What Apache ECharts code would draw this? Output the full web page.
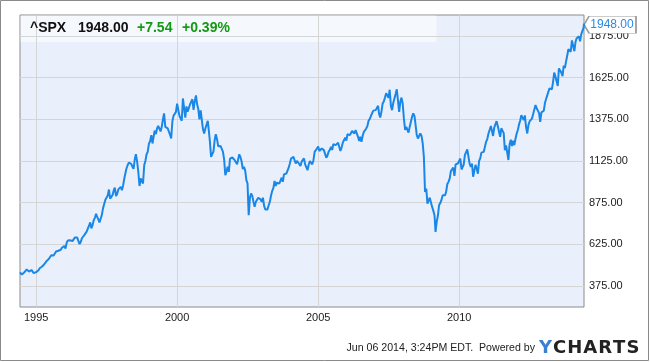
<!DOCTYPE html>
<html><head><meta charset="utf-8">
<script src="https://cdn.jsdelivr.net/npm/echarts@6/dist/echarts.min.js"></script>
<style>html,body{margin:0;padding:0;background:#fff}#c{width:650px;height:362px}</style>
</head><body><div id="c"></div>
<script>
// ---- data (semi-monthly samples: 1st and 16th of each month) ----
const startDate = '1994-06-06';
const endDate = '2014-06-06';
const firstValue = 458;     // 1994-06-06
const lastValue = 1948;     // 2014-06-06
const v1994 = [461,444,454,458,465,475,470,462,469,472,466,453,458]; // from Jun 16
const v1995 = [459,465,470,482,487,491,501,506,515,525,533,539,545,560,562,559,562,583,584,587,582,593,605,616];
const v1996 = [616,600,636,648,640,650,645,645,654,666,669,666,671,627,640,662,652,681,687,702,705,737,757,721];
const v1997 = [741,770,786,808,791,793,757,763,801,841,848,893,885,918,954,900,899,920,947,966,915,928,955,963];
const v1998 = [970,950,980,1020,1049,1080,1101,1115,1112,1108,1091,1078,1134,1166,1121,1062,975,1020,1005,990,1099,1125,1164,1180];
const v1999 = [1229,1243,1280,1230,1238,1307,1286,1320,1335,1337,1302,1330,1373,1410,1329,1330,1320,1318,1283,1260,1363,1397,1389,1418];
const v2000 = [1469,1465,1394,1388,1366,1500,1499,1385,1452,1420,1421,1464,1455,1495,1431,1484,1518,1465,1437,1374,1429,1372,1315,1290];
const v2001 = [1320,1330,1366,1301,1240,1150,1160,1183,1249,1285,1256,1214,1224,1215,1211,1181,1134,1040,1060,1090,1060,1139,1139,1146];
const v2002 = [1148,1130,1130,1105,1107,1165,1147,1120,1077,1090,1067,1010,990,800,905,930,916,880,850,880,890,905,910,895];
const v2003 = [880,905,856,834,841,835,860,880,917,945,964,1005,975,995,990,990,1008,1025,1000,1045,1051,1050,1058,1085];
const v2004 = [1112,1140,1131,1150,1145,1110,1126,1135,1107,1095,1121,1132,1141,1105,1102,1070,1104,1125,1115,1105,1130,1180,1174,1200];
const v2005 = [1212,1185,1181,1200,1204,1190,1181,1145,1157,1180,1192,1210,1191,1225,1234,1220,1220,1235,1229,1185,1207,1235,1249,1265];
const v2006 = [1248,1285,1280,1280,1281,1305,1295,1290,1311,1290,1270,1245,1270,1240,1277,1300,1304,1320,1336,1366,1378,1396,1401,1427];
const v2007 = [1418,1430,1438,1456,1407,1386,1421,1470,1482,1505,1531,1530,1503,1552,1455,1430,1474,1485,1527,1555,1549,1420,1480,1505];
const v2008 = [1468,1380,1311,1330,1340,1295,1330,1360,1390,1410,1395,1340,1280,1260,1265,1290,1275,1230,1150,940,960,870,880,905];
const v2009 = [903,850,826,800,700,760,798,860,873,890,919,915,919,940,987,1000,1021,1065,1057,1085,1036,1105,1096,1110];
const v2010 = [1115,1140,1074,1090,1104,1160,1169,1195,1187,1110,1089,1110,1031,1065,1102,1080,1049,1125,1141,1175,1183,1180,1181,1240];
const v2011 = [1258,1290,1286,1335,1327,1275,1326,1320,1364,1335,1345,1270,1321,1315,1292,1190,1219,1215,1131,1225,1253,1215,1247,1220];
const v2012 = [1258,1290,1312,1345,1366,1400,1408,1370,1398,1330,1290,1340,1362,1355,1379,1405,1407,1460,1441,1430,1412,1360,1416,1420];
const v2013 = [1426,1472,1498,1520,1515,1560,1569,1555,1598,1655,1631,1630,1575,1680,1686,1655,1633,1697,1682,1720,1757,1795,1806,1780];
const v2014 = [1848,1845,1783,1838,1859,1850,1872,1842,1884,1880,1924]; // to Jun 1
const yTicks = [375,625,875,1125,1375,1625,1875];
const xTicks = ['1995-01-01','2000-01-01','2005-01-01','2010-01-01'];

// ---- build series ----
const pad = n => (n < 10 ? '0' : '') + n;
function slots(year, startSlot, vals) {
  return vals.map((v, i) => {
    const s = startSlot + i;
    return [year + '-' + pad(Math.floor(s / 2) + 1) + '-' + (s % 2 ? '16' : '01'), v];
  });
}
const yearVals = {1995:v1995,1996:v1996,1997:v1997,1998:v1998,1999:v1999,2000:v2000,2001:v2001,2002:v2002,
  2003:v2003,2004:v2004,2005:v2005,2006:v2006,2007:v2007,2008:v2008,2009:v2009,2010:v2010,2011:v2011,2012:v2012,2013:v2013};
let data = [[startDate, firstValue]].concat(slots(1994, 11, v1994));
for (let y = 1995; y <= 2013; y++) data = data.concat(slots(y, 0, yearVals[y]));
data = data.concat(slots(2014, 0, v2014));
data.push([endDate, lastValue]);

const FONT = 'Liberation Sans, Arial, sans-serif';
const LOGO = 'bold 18px DejaVu Sans';
const chart = echarts.init(document.getElementById('c'), null, {renderer: 'canvas'});
chart.setOption({
  animation: false,
  grid: {left: 20, top: 15, right: 66, bottom: 55, show: true, backgroundColor: '#eaf0fb', borderColor: '#8a8a8a', borderWidth: 1, z: 0},
  xAxis: {type: 'time', min: startDate, max: endDate,
    axisLine: {show: false}, axisTick: {show: false}, axisLabel: {show: false}, splitLine: {show: false}},
  yAxis: {type: 'value', position: 'right', min: 250, max: 2000, interval: 125,
    axisLine: {show: false}, axisTick: {show: false}, splitLine: {show: false},
    axisLabel: {margin: 5, color: '#222', fontSize: 11, fontFamily: FONT,
      formatter: v => ((v - 375) % 250 === 0 ? v.toFixed(2) : '')}},
  series: [
    {type: 'line', data: [], z: 1, silent: true,
      markLine: {silent: true, symbol: ['none', 'none'], animation: false,
        lineStyle: {color: '#d5d5d5', width: 1, type: 'solid'},
        emphasis: {disabled: true},
        data: yTicks.map(v => ({yAxis: v, label: {show: false}})).concat(
          xTicks.map(d => ({xAxis: d, label: {show: true, position: 'start', distance: 5,
            formatter: d.slice(0, 4), color: '#222', fontSize: 11, fontFamily: FONT}})))}},
    {type: 'line', data: data, z: 5, showSymbol: false, symbol: 'none', smooth: false,
      lineStyle: {color: '#1a87e6', width: 2}, silent: true,
      markPoint: {silent: true, animation: false,
        symbol: 'path://M0,8.5L5,0L52,0L52,17L5,17Z', symbolSize: [52, 17], symbolKeepAspect: false,
        symbolOffset: [26, 1],
        itemStyle: {color: '#fff', borderColor: '#999', borderWidth: 1},
        label: {show: true, position: 'inside', offset: [2, 0], formatter: lastValue.toFixed(2),
          color: '#2a8ae6', fontSize: 12, fontFamily: FONT},
        data: [{coord: [endDate, lastValue]}]}}
  ],
  graphic: [
    {type: 'rect', z: 3, silent: true, shape: {x: 20.5, y: 15.5, width: 416, height: 26.5}, style: {fill: 'rgba(255,255,255,0.5)'}},
    {type: 'text', z: 10, x: 30, y: 28, style: {text: '^SPX', fill: '#111', font: 'bold 14px ' + FONT, verticalAlign: 'middle'}},
    {type: 'text', z: 10, x: 78, y: 28, style: {text: '1948.00', fill: '#111', font: 'bold 14px ' + FONT, verticalAlign: 'middle'}},
    {type: 'text', z: 10, x: 137, y: 28, style: {text: '+7.54', fill: '#139a13', font: 'bold 14px ' + FONT, verticalAlign: 'middle'}},
    {type: 'text', z: 10, x: 182, y: 28, style: {text: '+0.39%', fill: '#139a13', font: 'bold 14px ' + FONT, verticalAlign: 'middle'}},
    {type: 'text', z: 10, x: 535, y: 348, style: {text: 'Jun 06 2014, 3:24PM EDT.  Powered by', fill: '#222', font: '10.6px ' + FONT, align: 'right', verticalAlign: 'middle'}},
    {type: 'text', z: 10, x: 539, y: 348, style: {text: '{y|Y}{c|C}{c|H}{c|A}{c|R}{c|T}{e|S}', verticalAlign: 'middle',
      rich: {y: {fill: '#3a7fd6', font: LOGO, padding: [0, 1, 0, 0]},
             c: {fill: '#222', font: LOGO, padding: [0, 1, 0, 0]},
             e: {fill: '#222', font: LOGO}}}},
    {type: 'rect', z: 0, silent: true, shape: {x: 0.5, y: 0.5, width: 648, height: 360}, style: {fill: 'none', stroke: '#8a8a8a', lineWidth: 1}}
  ]
});
</script></body></html>
